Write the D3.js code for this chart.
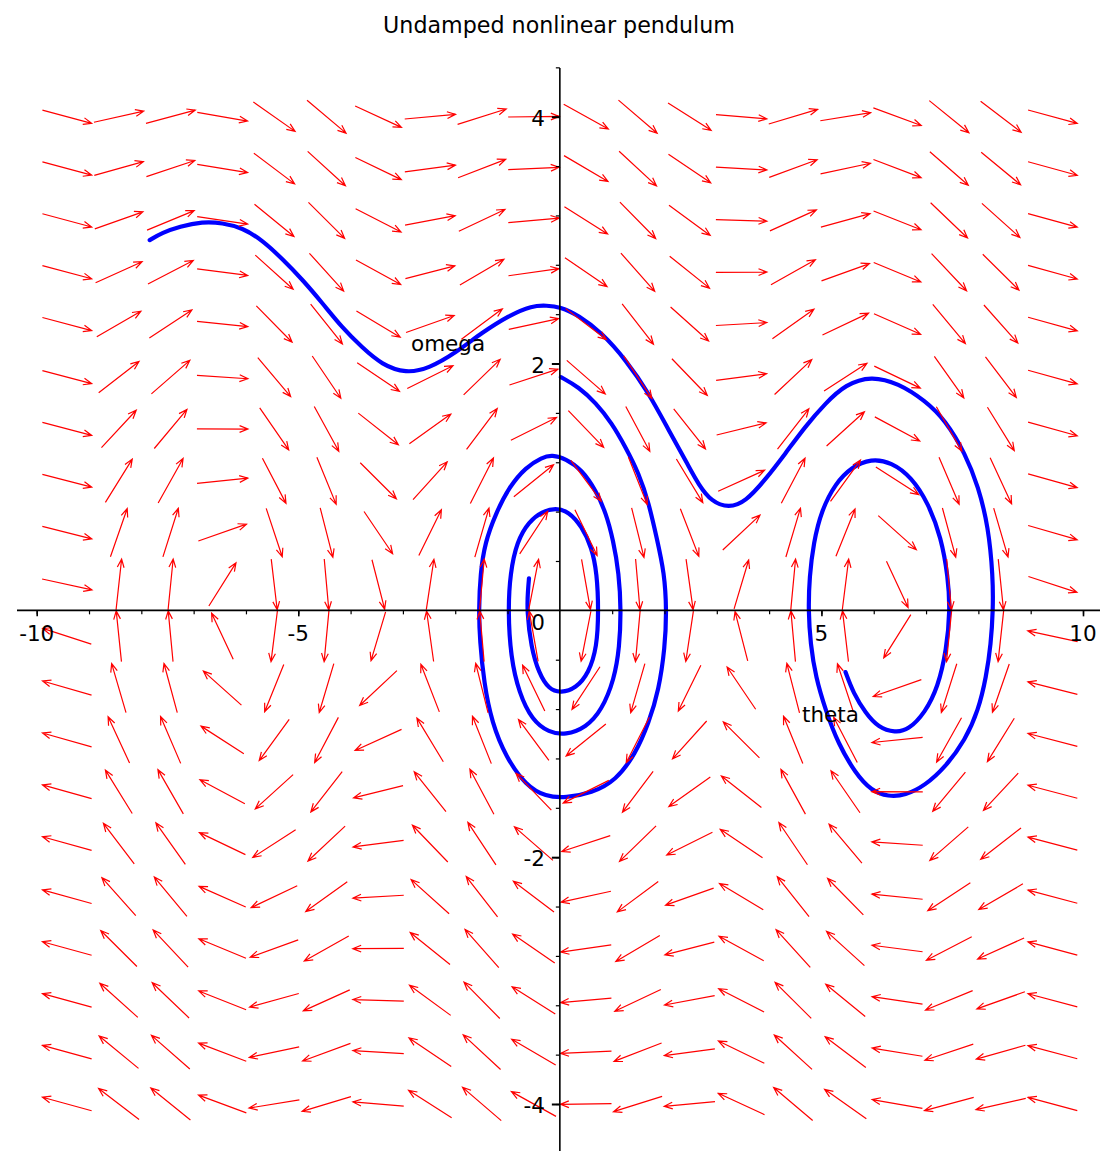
<!DOCTYPE html>
<html>
<head>
<meta charset="utf-8">
<script src="https://cdn.jsdelivr.net/npm/d3@7"></script>
<style>
  body { margin: 0; background: #fff; }
  svg { display: block; }
  text { font-family: "DejaVu Sans", sans-serif; fill: #000; }
</style>
</head>
<body>
<div id="canvas"></div>
<script>
// DATA ========================================================================

var TITLE = "Undamped nonlinear pendulum"

// arrow grid of the direction field (theta across, omega up)
var THETA_GRID = [-9.42, -8.43, -7.44, -6.45, -5.46, -4.46, -3.47, -2.48, -1.49, -0.50,
                  0.50, 1.49, 2.48, 3.47, 4.46, 5.46, 6.45, 7.44, 8.43, 9.42]
var OMEGA_GRID = [-4.00, -3.58, -3.16, -2.74, -2.32, -1.89, -1.47, -1.05, -0.63, -0.21,
                  0.21, 0.63, 1.05, 1.47, 1.89, 2.32, 2.74, 3.16, 3.58, 4.00]

// theta' = omega, omega' = -sin(theta) - DAMPING*omega
var DAMPING = 0.115

// solution curves, [theta, omega]
var CURVE_OVER = [[-7.84,3.00],[-7.60,3.06],[-7.27,3.11],[-6.83,3.15],[-6.45,3.14],[-6.07,3.10],
  [-5.69,3.00],[-5.31,2.85],[-4.92,2.68],[-4.54,2.49],[-4.16,2.29],[-3.78,2.13],[-3.40,1.99],
  [-2.94,1.92],[-2.50,1.96],[-1.98,2.09],[-1.49,2.25],[-0.97,2.39],[-0.53,2.47],[-0.25,2.47],
  [0,2.46],[0.36,2.39],[0.80,2.25],[1.26,2.03],[1.70,1.76],[2.08,1.46],[2.46,1.17],[2.65,1.02],
  [2.90,0.88],[3.23,0.83],[3.55,0.88],[3.93,1.06],[4.31,1.27],[4.69,1.49],[5.08,1.68],[5.46,1.83],
  [5.95,1.90],[6.47,1.84],[6.98,1.70],[7.37,1.54],[7.75,1.27],[8.00,1.00],[8.19,0.68],[8.28,0.27],
  [8.28,0],[8.24,-0.27],[8.15,-0.54],[8.00,-0.81],[7.75,-1.05],[7.37,-1.27],[6.98,-1.42],
  [6.60,-1.50],[6.28,-1.51],[5.95,-1.46],[5.65,-1.32],[5.32,-1.08],[5.08,-0.81],[4.89,-0.54],
  [4.79,-0.27],[4.75,0],[4.77,0.27],[4.85,0.55],[5.00,0.81],[5.27,1.03],[5.57,1.16],[5.95,1.23],
  [6.34,1.20],[6.72,1.08],[7.04,0.87],[7.29,0.59],[7.42,0.27],[7.46,0],[7.39,-0.32],[7.23,-0.62],
  [6.98,-0.83],[6.66,-0.97],[6.41,-0.99],[6.09,-0.95],[5.84,-0.83],[5.61,-0.67],[5.46,-0.50]]

var CURVE_SPIRAL = [[0.02,1.89],[0.36,1.81],[0.69,1.68],[0.99,1.52],[1.26,1.32],[1.51,1.11],
  [1.70,0.87],[1.85,0.59],[2.00,0.30],[2.04,0],[2.01,-0.30],[1.89,-0.65],[1.70,-0.91],[1.45,-1.16],
  [1.07,-1.38],[0.61,-1.48],[0.11,-1.52],[-0.27,-1.51],[-0.65,-1.42],[-1.03,-1.19],[-1.30,-0.91],
  [-1.45,-0.59],[-1.53,-0.24],[-1.55,0],[-1.52,0.30],[-1.43,0.55],[-1.23,0.78],[-0.97,1.00],
  [-0.65,1.16],[-0.34,1.24],[-0.15,1.26],[0.11,1.23],[0.42,1.14],[0.69,0.97],[0.88,0.79],
  [1.02,0.57],[1.13,0.30],[1.17,0],[1.14,-0.30],[1.04,-0.56],[0.80,-0.81],[0.50,-0.95],
  [0.11,-1.01],[-0.21,-0.99],[-0.53,-0.89],[-0.78,-0.67],[-0.94,-0.38],[-0.99,0],[-0.95,0.30],
  [-0.82,0.56],[-0.59,0.72],[-0.34,0.80],[-0.08,0.83],[0.17,0.80],[0.42,0.68],[0.61,0.51],
  [0.71,0.30],[0.74,0],[0.71,-0.30],[0.55,-0.51],[0.31,-0.63],[0.02,-0.67],[-0.21,-0.64],
  [-0.40,-0.51],[-0.55,-0.30],[-0.63,0],[-0.61,0.16],[-0.59,0.26]]

var X_MINOR = d3.range(-10, 11)
var X_MAJOR = [-10, -5, 5, 10]
var Y_MINOR = d3.range(-11, 12).map(d => +(d*0.4).toFixed(1))
var Y_MAJOR = [-4, -2, 2, 4]

// SETTINGS ====================================================================

var WIDTH = 1100
var HEIGHT = 1151
var FONT_SIZE = 21.5
var ARROW_LENGTH = 51
var BARB_LENGTH = 9
var BARB_ANGLE = 22*Math.PI/180

// CHART =======================================================================

var x = d3.scaleLinear().domain([-10, 10]).range([36.7, 1083])
var y = d3.scaleLinear().domain([-4, 4]).range([1104, 116.7])

var svg = d3.select("#canvas").append("svg")
    .attr("width", WIDTH)
    .attr("height", HEIGHT)

svg.append("text")
    .text(TITLE)
    .attr("x", 559)
    .attr("y", 33)
    .attr("text-anchor", "middle")
    .attr("font-size", 22.2)

// Solution curves.
var line = d3.line()
    .x(d => x(d[0]))
    .y(d => y(d[1]))
    .curve(d3.curveBasis)

svg.append("g").selectAll("path")
    .data([CURVE_OVER, CURVE_SPIRAL]).enter()
    .append("path")
        .attr("d", line)
        .attr("fill", "none")
        .attr("stroke", "#0000ff")
        .attr("stroke-width", 4.2)
        .attr("stroke-linecap", "round")
        .attr("stroke-linejoin", "round")

// Direction field.
var kx = x(1) - x(0)
var ky = y(0) - y(1)
var grid = []
OMEGA_GRID.forEach(w => THETA_GRID.forEach(t => grid.push([t, w])))

function arrow(d) {
    let t = d[0], w = d[1]
    let ux = w*kx
    let uy = -(-Math.sin(t) - DAMPING*w)*ky
    let n = Math.sqrt(ux*ux + uy*uy)
    ux /= n; uy /= n
    let cx = x(t), cy = y(w)
    let tx = cx + ux*ARROW_LENGTH/2, ty = cy + uy*ARROW_LENGTH/2
    let sx = cx - ux*ARROW_LENGTH/2, sy = cy - uy*ARROW_LENGTH/2
    let barb = function(a) {
        let c = Math.cos(a), s = Math.sin(a)
        let bx = -(ux*c - uy*s), by = -(ux*s + uy*c)
        return [tx + bx*BARB_LENGTH, ty + by*BARB_LENGTH]
    }
    let b1 = barb(BARB_ANGLE), b2 = barb(-BARB_ANGLE)
    return "M" + sx + "," + sy + "L" + tx + "," + ty +
        "M" + b1[0] + "," + b1[1] + "L" + tx + "," + ty + "L" + b2[0] + "," + b2[1]
}

svg.append("g").selectAll("path")
    .data(grid).enter()
    .append("path")
        .attr("d", arrow)
        .attr("fill", "none")
        .attr("stroke", "#ff0000")
        .attr("stroke-width", 1.2)

// Axes.
var axes = svg.append("g").attr("stroke", "#000")

axes.append("line")
    .attr("x1", 17).attr("x2", WIDTH)
    .attr("y1", y(0)).attr("y2", y(0))
    .attr("stroke-width", 1.6)

axes.append("line")
    .attr("x1", x(0)).attr("x2", x(0))
    .attr("y1", 68).attr("y2", HEIGHT)
    .attr("stroke-width", 1.6)

function ticks(g, axis) {
    g.call(axis)
    g.select(".domain").remove()
    g.selectAll("text").remove()
    g.selectAll("line").attr("stroke", "#000")
}

svg.append("g")
    .attr("transform", "translate(0," + y(0) + ")")
    .call(g => ticks(g, d3.axisBottom(x).tickValues(X_MINOR.filter(d => d != 0)).tickSize(4)))
    .selectAll("line").attr("stroke-width", 1.2)

svg.append("g")
    .attr("transform", "translate(0," + y(0) + ")")
    .call(g => ticks(g, d3.axisBottom(x).tickValues(X_MAJOR).tickSize(6)))
    .selectAll("line").attr("stroke-width", 1.6)

svg.append("g")
    .attr("transform", "translate(" + x(0) + ",0)")
    .call(g => ticks(g, d3.axisLeft(y).tickValues(Y_MINOR.filter(d => d != 0)).tickSize(4)))
    .selectAll("line").attr("stroke-width", 1.2)

svg.append("g")
    .attr("transform", "translate(" + x(0) + ",0)")
    .call(g => ticks(g, d3.axisLeft(y).tickValues(Y_MAJOR).tickSize(8)))
    .selectAll("line").attr("stroke-width", 2)

// Tick labels.
svg.append("g").selectAll("text")
    .data(X_MAJOR).enter()
    .append("text")
        .text(d => d)
        .attr("x", d => x(d))
        .attr("y", y(0) + 31)
        .attr("text-anchor", "middle")
        .attr("font-size", FONT_SIZE)

svg.append("g").selectAll("text")
    .data(Y_MAJOR).enter()
    .append("text")
        .text(d => d)
        .attr("x", x(0) - 15)
        .attr("y", d => y(d) + 9)
        .attr("text-anchor", "end")
        .attr("font-size", FONT_SIZE)

svg.append("text")
    .text("0")
    .attr("x", x(0) - 15)
    .attr("y", y(0) + 20)
    .attr("text-anchor", "end")
    .attr("font-size", FONT_SIZE)

// Axis names.
svg.append("text")
    .text("omega")
    .attr("x", 411)
    .attr("y", 351)
    .attr("font-size", FONT_SIZE)

svg.append("text")
    .text("theta")
    .attr("x", 802)
    .attr("y", 722)
    .attr("font-size", FONT_SIZE)
</script>
</body>
</html>
